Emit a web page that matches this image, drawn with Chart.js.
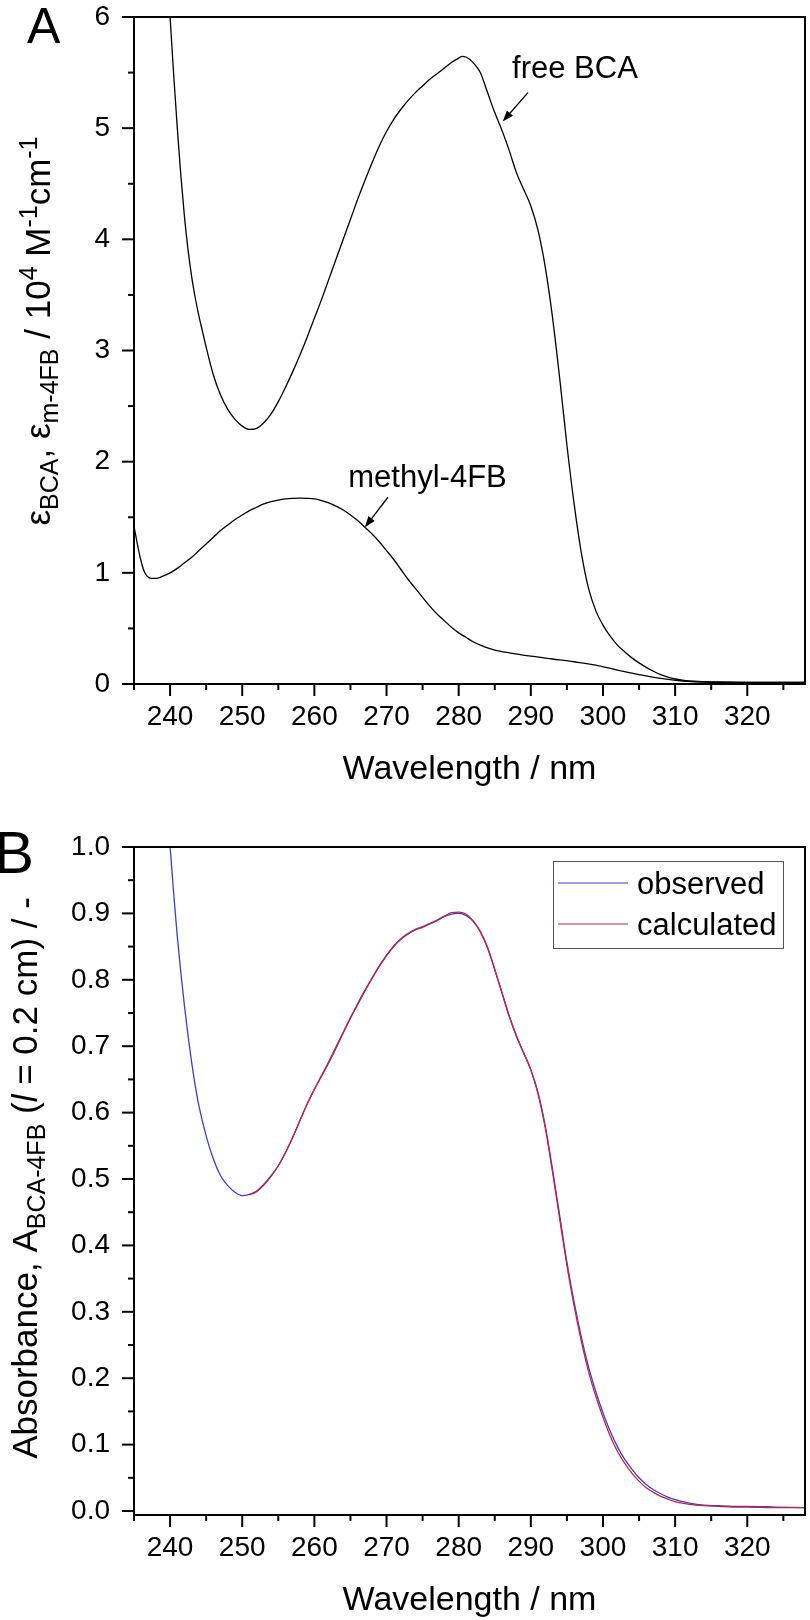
<!DOCTYPE html>
<html><head><meta charset="utf-8">
<script src="https://cdn.jsdelivr.net/npm/chart.js@4.4.1/dist/chart.umd.min.js"></script>
<style>
html,body{margin:0;padding:0;background:#fff;}
#wrap{position:relative;width:810px;height:1620px;overflow:hidden;background:#fff;}
canvas{position:absolute;left:0;}
#cA{top:0;} #cB{top:800px;}
</style></head><body>
<div id="wrap"><canvas id="cA" width="810" height="800"></canvas><canvas id="cB" width="810" height="820"></canvas></div>
<script>
// ---------- DATA ----------
// Panel A: molar absorptivity (10^4 M^-1 cm^-1)
const wlBCA = [239.5,240,240.5,241,241.5,242,242.5,243,243.5,244,244.5,
  245,246,247,248,249,250,251,252,253,254,255,256,257,258,259,260,261,262,263,264,265,266,267,268,269,270,
  271,272,273,274,275,276,277,278,279,280,280.5,281,282,283,284,285,286,287,288,289,290,291,292,293,294,295,296,297,298,299,300,
  301,302,303,304,305,306,307,308,309,310,311,312,314,316,318,320,324,328];
const epsBCA = [6.55,6.0,5.48,5.0,4.57,4.2,3.9,3.66,3.47,3.31,3.17,
  3.03,2.78,2.6,2.47,2.38,2.32,2.29,2.3,2.35,2.43,2.54,2.67,2.81,2.96,3.12,3.29,3.46,3.64,3.82,4.0,4.18,4.36,4.53,4.69,4.84,4.97,
  5.08,5.17,5.25,5.32,5.38,5.44,5.49,5.54,5.59,5.63,5.645,5.64,5.59,5.5,5.32,5.14,4.98,4.8,4.6,4.45,4.3,4.08,3.75,3.3,2.75,2.15,1.62,1.18,0.86,0.66,0.53,
  0.43,0.35,0.29,0.235,0.19,0.15,0.115,0.085,0.062,0.045,0.034,0.027,0.021,0.018,0.016,0.015,0.015,0.015];
const wlM4FB = [235,235.5,236,236.5,237,237.5,238,239,240,241,242,243,244,245,246,247,248,249,250,
  251,252,253,254,255,256,257,258,259,260,261,262,263,264,265,266,267,268,269,270,
  271,272,273,274,275,276,277,278,279,280,281,282,283,284,285,287,290,293,296,299,302,305,308,311,314,318,322,328];
const epsM4FB = [1.42,1.25,1.1,1.0,0.96,0.95,0.95,0.97,1.0,1.04,1.09,1.14,1.2,1.26,1.32,1.38,1.43,1.48,1.52,
  1.56,1.59,1.62,1.64,1.655,1.665,1.67,1.672,1.67,1.665,1.65,1.63,1.6,1.565,1.52,1.47,1.41,1.35,1.28,1.2,
  1.12,1.03,0.94,0.86,0.78,0.7,0.63,0.57,0.51,0.46,0.42,0.38,0.35,0.325,0.305,0.28,0.25,0.225,0.2,0.17,0.125,0.085,0.05,0.027,0.018,0.015,0.015,0.015];
// Panel B: absorbance
const wlObs = [239.5,240,240.5,241,241.5,242,242.5,243,243.5,244,
  245,246,247,248,249,250,251,252,253,254,255,256,257,258,259,260,261,262,263,264,265,266,267,268,269,270,
  271,272,273,274,275,276,277,278,279,280,281,282,283,284,285,286,287,288,289,290,291,292,293,294,295,296,297,298,299,300,
  301,302,303,304,305,306,307,308,309,310,312,314,316,318,320,324,328];
const absObs = [1.05,1.0,0.93,0.865,0.81,0.76,0.715,0.675,0.64,0.61,
  0.565,0.53,0.505,0.49,0.48,0.475,0.477,0.482,0.492,0.505,0.52,0.54,0.563,0.588,0.613,0.635,0.655,0.675,0.697,0.72,0.742,0.763,0.783,0.802,0.82,0.836,
  0.85,0.861,0.869,0.875,0.879,0.884,0.889,0.895,0.899,0.9,0.897,0.888,0.872,0.848,0.815,0.78,0.745,0.715,0.69,0.665,0.63,0.58,0.515,0.445,0.375,0.315,0.262,0.217,0.18,0.148,
  0.12,0.097,0.078,0.063,0.05,0.04,0.032,0.026,0.021,0.017,0.012,0.009,0.008,0.007,0.007,0.006,0.005];
const wlCalc = [251,252,253,254,255,256,257,258,259,260,261,262,263,264,265,266,267,268,269,270,
  271,272,273,274,275,276,277,278,279,280,281,282,283,284,285,286,287,288,289,290,291,292,293,294,295,296,297,298,299,300,
  301,302,303,304,305,306,307,308,309,310,312,314,316,318,320,324,328];
const absCalc = [0.476,0.481,0.491,0.504,0.52,0.54,0.563,0.588,0.613,0.635,0.656,0.677,0.699,0.721,0.743,0.764,0.784,0.803,0.821,0.837,
  0.851,0.862,0.87,0.876,0.88,0.885,0.89,0.896,0.901,0.902,0.899,0.889,0.873,0.849,0.816,0.781,0.746,0.716,0.69,0.664,0.628,0.577,0.511,0.44,0.37,0.309,0.256,0.21,0.173,0.141,
  0.113,0.09,0.072,0.057,0.045,0.035,0.028,0.022,0.018,0.014,0.01,0.008,0.007,0.006,0.006,0.005,0.005];
// Tick values
const xTickValues = [235,240,245,250,255,260,265,270,275,280,285,290,295,300,305,310,315,320,325];
const xMajor = [240,250,260,270,280,290,300,310,320];
const yTicksA = [0,0.5,1,1.5,2,2.5,3,3.5,4,4.5,5,5.5,6];
const yMajorA = [0,1,2,3,4,5,6];
const yTicksB = [0,0.05,0.1,0.15,0.2,0.25,0.3,0.35,0.4,0.45,0.5,0.55,0.6,0.65,0.7,0.75,0.8,0.85,0.9,0.95,1.0];
const yMajorB = [0,0.1,0.2,0.3,0.4,0.5,0.6,0.7,0.8,0.9,1.0];
// Labels
const seriesA = ['free BCA','methyl-4FB'];
const seriesB = ['observed','calculated'];

// ---------- STYLE / HELPERS ----------
const FF = '"Liberation Sans", Arial, Helvetica, sans-serif';
const pts = (xs, ys) => xs.map((x, i) => ({x, y: ys[i]}));
const near = (v, arr) => arr.some(a => Math.abs(a - v) < 1e-6);

function drawRich(ctx, segs, cx, cy, size, rotate) {
  const fontFor = s => (s.it ? 'italic ' : '') + Math.round(s.k ? size * 0.7 : size) + 'px ' + FF;
  let w = 0;
  segs.forEach(s => { ctx.font = fontFor(s); s.w = ctx.measureText(s.t).width; w += s.w; });
  ctx.save();
  ctx.translate(cx, cy);
  if (rotate) ctx.rotate(-Math.PI / 2);
  ctx.fillStyle = '#000'; ctx.textAlign = 'left'; ctx.textBaseline = 'alphabetic';
  let x = -w / 2;
  segs.forEach(s => {
    ctx.font = fontFor(s);
    const dy = s.k === 'sub' ? size * 0.24 : (s.k === 'sup' ? -size * 0.38 : 0);
    ctx.fillText(s.t, x, dy);
    x += s.w;
  });
  ctx.restore();
}

function framePlugin(cfg) {
  return {
    id: 'frame' + cfg.id,
    afterDraw(chart) {
      const {ctx, chartArea: a, scales: {x, y}} = chart;
      ctx.save();
      ctx.strokeStyle = '#000'; ctx.lineWidth = 2; ctx.lineCap = 'butt';
      ctx.strokeRect(a.left, a.top, a.right - a.left, a.bottom - a.top);
      xTickValues.forEach(v => {
        const px = x.getPixelForValue(v);
        const L = near(v, xMajor) ? 12 : 6;
        ctx.beginPath(); ctx.moveTo(px, a.bottom); ctx.lineTo(px, a.bottom + L); ctx.stroke();
      });
      cfg.yTicks.forEach(v => {
        const py = y.getPixelForValue(v);
        const L = near(v, cfg.yMajor) ? 12 : 6;
        ctx.beginPath(); ctx.moveTo(a.left, py); ctx.lineTo(a.left - L, py); ctx.stroke();
      });
      // x-axis title
      ctx.fillStyle = '#000'; ctx.font = '34px ' + FF; ctx.textAlign = 'center'; ctx.textBaseline = 'alphabetic';
      ctx.fillText('Wavelength / nm', (a.left + a.right) / 2, a.bottom + cfg.xTitleOff);
      // y-axis title
      drawRich(ctx, cfg.yTitle, cfg.yTitleX, cfg.yTitleY, 35, true);
      // panel letter
      ctx.font = cfg.letterSize + 'px ' + FF; ctx.textAlign = 'left';
      ctx.fillText(cfg.letter, cfg.letterX, cfg.letterY);
      ctx.restore();
    }
  };
}

function xScale(bottom) {
  return {
    type: 'linear', min: 235, max: 328,
    afterBuildTicks: s => { s.ticks = xTickValues.map(v => ({value: v})); },
    afterFit: s => { s.height = s.chart.canvas.height - bottom; s.paddingLeft = 0; s.paddingRight = 0; },
    grid: {display: true, drawOnChartArea: false, drawTicks: true, tickLength: 12, tickColor: 'rgba(0,0,0,0)'},
    border: {display: false},
    ticks: {autoSkip: false, maxRotation: 0, padding: 4, color: '#000', font: {family: FF, size: 28},
      callback: v => near(v, xMajor) ? String(v) : ''}
  };
}
function yScale(min, max, tickVals, major, fmt) {
  return {
    type: 'linear', min, max,
    afterBuildTicks: s => { s.ticks = tickVals.map(v => ({value: v})); },
    afterFit: s => { s.width = 134; s.paddingTop = 0; s.paddingBottom = 0; },
    grid: {display: true, drawOnChartArea: false, drawTicks: true, tickLength: 12, tickColor: 'rgba(0,0,0,0)'},
    border: {display: false},
    ticks: {autoSkip: false, padding: 12, color: '#000', font: {family: FF, size: 28},
      callback: v => near(v, major) ? fmt(v) : ''}
  };
}

// ---------- PANEL A ----------
const annA = [
  {text: seriesA[0], tx: 287.4, ty: 5.45, ax: 289.6, ay: 5.32, hx: 286.1, hy: 5.06},
  {text: seriesA[1], tx: 264.7, ty: 1.77, ax: 270.2, ay: 1.68, hx: 267.0, hy: 1.41}
];
const annPlugin = {
  id: 'annA',
  afterDraw(chart) {
    const {ctx, scales: {x, y}} = chart;
    ctx.save();
    ctx.fillStyle = '#000'; ctx.strokeStyle = '#000'; ctx.lineWidth = 1.3;
    ctx.font = '31px ' + FF; ctx.textAlign = 'left'; ctx.textBaseline = 'alphabetic';
    annA.forEach(a => {
      ctx.fillText(a.text, x.getPixelForValue(a.tx), y.getPixelForValue(a.ty));
      const x1 = x.getPixelForValue(a.ax), y1 = y.getPixelForValue(a.ay);
      const x2 = x.getPixelForValue(a.hx), y2 = y.getPixelForValue(a.hy);
      const ang = Math.atan2(y2 - y1, x2 - x1);
      const hl = 11, hw = 4;
      const bx = x2 - hl * Math.cos(ang), by = y2 - hl * Math.sin(ang);
      ctx.beginPath(); ctx.moveTo(x1, y1); ctx.lineTo(bx, by); ctx.stroke();
      ctx.beginPath();
      ctx.moveTo(x2, y2);
      ctx.lineTo(bx + hw * Math.sin(ang), by - hw * Math.cos(ang));
      ctx.lineTo(bx - hw * Math.sin(ang), by + hw * Math.cos(ang));
      ctx.closePath(); ctx.fill();
    });
    ctx.restore();
  }
};

new Chart(document.getElementById('cA'), {
  type: 'line',
  data: {datasets: [
    {label: seriesA[0], data: pts(wlBCA, epsBCA), borderColor: '#000', borderWidth: 1.3, pointRadius: 0, cubicInterpolationMode: 'monotone', fill: false},
    {label: seriesA[1], data: pts(wlM4FB, epsM4FB), borderColor: '#000', borderWidth: 1.3, pointRadius: 0, cubicInterpolationMode: 'monotone', fill: false}
  ]},
  options: {
    responsive: false, animation: false, devicePixelRatio: 1,
    layout: {padding: {top: 17, right: 5, left: 0, bottom: 0}},
    plugins: {legend: {display: false}, tooltip: {enabled: false}},
    scales: {
      x: xScale(684),
      y: yScale(0, 6, yTicksA, yMajorA, v => String(Math.round(v)))
    }
  },
  plugins: [annPlugin, framePlugin({
    id: 'A', yTicks: yTicksA, yMajor: yMajorA, xTitleOff: 95,
    yTitle: [{t: 'ε'}, {t: 'BCA', k: 'sub'}, {t: ', ε'}, {t: 'm-4FB', k: 'sub'}, {t: ' / 10'}, {t: '4', k: 'sup'}, {t: ' M'}, {t: '-1', k: 'sup'}, {t: 'cm'}, {t: '-1', k: 'sup'}],
    yTitleX: 50, yTitleY: 331,
    letter: 'A', letterSize: 50, letterX: 27, letterY: 43
  })]
});

// ---------- PANEL B ----------
const legendPlugin = {
  id: 'legB',
  afterDraw(chart) {
    const {ctx} = chart;
    ctx.save();
    ctx.strokeStyle = '#555'; ctx.lineWidth = 1;
    ctx.strokeRect(553.5, 61.5, 230, 87);
    ctx.font = '31px ' + FF; ctx.textAlign = 'left'; ctx.textBaseline = 'alphabetic'; ctx.fillStyle = '#000';
    const rows = [83, 124];
    chart.data.datasets.forEach((d, i) => {
      ctx.strokeStyle = d.borderColor; ctx.lineWidth = 1.2;
      ctx.beginPath(); ctx.moveTo(558, rows[i]); ctx.lineTo(628, rows[i]); ctx.stroke();
      ctx.fillText(d.label, 637, rows[i] + 11);
    });
    ctx.restore();
  }
};

new Chart(document.getElementById('cB'), {
  type: 'line',
  data: {datasets: [
    {label: seriesB[0], data: pts(wlObs, absObs), borderColor: '#3b3fcf', borderWidth: 1.3, pointRadius: 0, cubicInterpolationMode: 'monotone', fill: false, order: 2},
    {label: seriesB[1], data: pts(wlCalc, absCalc), borderColor: '#c8203e', borderWidth: 1.3, pointRadius: 0, cubicInterpolationMode: 'monotone', fill: false, order: 1}
  ]},
  options: {
    responsive: false, animation: false, devicePixelRatio: 1,
    layout: {padding: {top: 47, right: 5, left: 0, bottom: 0}},
    plugins: {legend: {display: false}, tooltip: {enabled: false}},
    scales: {
      x: xScale(715),
      y: yScale(-0.006, 1.0, yTicksB, yMajorB, v => v.toFixed(1))
    }
  },
  plugins: [legendPlugin, framePlugin({
    id: 'B', yTicks: yTicksB, yMajor: yMajorB, xTitleOff: 95,
    yTitle: [{t: 'Absorbance, A'}, {t: 'BCA-4FB', k: 'sub'}, {t: ' ('}, {t: 'l', it: true}, {t: ' = 0.2 cm) / -'}],
    yTitleX: 37, yTitleY: 378,
    letter: 'B', letterSize: 60, letterX: -6, letterY: 73
  })]
});
</script>
</body></html>
